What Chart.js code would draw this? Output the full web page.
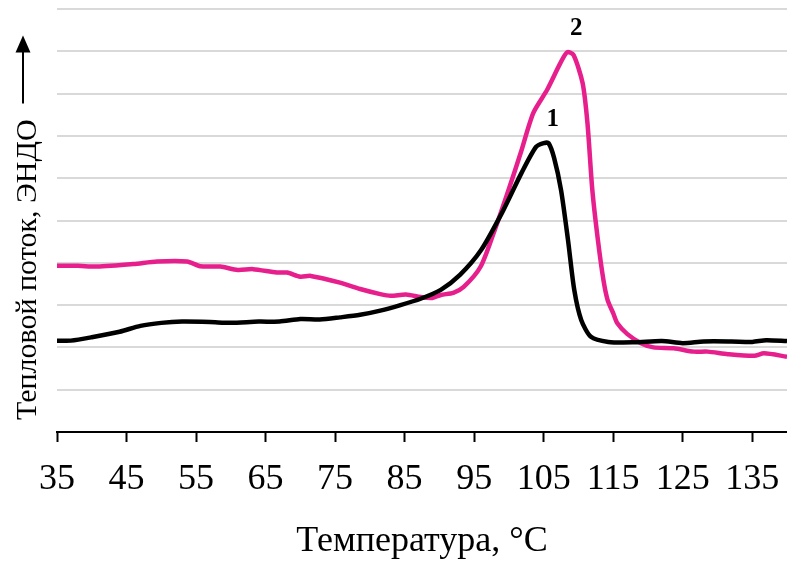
<!DOCTYPE html>
<html lang="ru">
<head>
<meta charset="utf-8">
<title>Тепловой поток</title>
<script src="https://cdn.jsdelivr.net/npm/chart.js@4"></script>
<style>
  html, body { margin: 0; padding: 0; background: #fff; }
</style>
</head>
<body>
<canvas id="dscChart" width="787" height="563"></canvas>
<script>
// кривая 1 (черная)
const temp1 = [35, 37, 40, 44, 47, 50, 53, 57, 60, 64, 67, 70, 72.8, 75.7, 78.6, 81.5, 84.4, 87.3, 90.2, 93,
  96, 99, 101.8, 103.9, 105, 105.7, 106.5, 107.5, 108.5, 109.4, 110.4, 111.8, 114.3, 118, 122, 125, 128, 132, 135, 137, 140];
const flow1 = [2.16, 2.16, 2.24, 2.37, 2.51, 2.58, 2.61, 2.6, 2.58, 2.61, 2.61, 2.67, 2.66, 2.71, 2.77, 2.87, 3.0, 3.15, 3.36, 3.72,
  4.3, 5.18, 6.12, 6.74, 6.83, 6.83, 6.48, 5.72, 4.54, 3.36, 2.65, 2.25, 2.13, 2.12, 2.15, 2.1, 2.14, 2.14, 2.13, 2.17, 2.15];

// кривая 2 (розовая)
const temp2 = [35, 38, 40.7, 46, 49.4, 53.7, 55.6, 58.5, 61, 63.2, 66.6, 68.1, 70, 71.5, 75.7, 78.6, 81.5, 83, 85.2, 87.3,
  89, 90.2, 92, 93.5, 95.9, 97.8, 99.8, 101.7, 103.5, 105.5, 107.4, 108.4, 109.3, 110.6, 111.3, 112, 112.8, 113.6, 114.2, 115,
  115.6, 117, 119, 120.8, 123.7, 126.6, 128.6, 131.5, 135.3, 136.7, 140];
const flow2 = [3.93, 3.93, 3.91, 3.97, 4.03, 4.03, 3.92, 3.91, 3.83, 3.85, 3.77, 3.77, 3.67, 3.69, 3.53, 3.38, 3.26, 3.22, 3.25, 3.19,
  3.17, 3.24, 3.29, 3.43, 3.9, 4.7, 5.65, 6.6, 7.54, 8.09, 8.72, 8.98, 8.91, 8.25, 7.3, 5.72, 4.54, 3.59, 3.12, 2.81,
  2.57, 2.32, 2.1, 2.0, 1.98, 1.9, 1.9, 1.84, 1.8, 1.86, 1.78];

const xTicks = [35, 45, 55, 65, 75, 85, 95, 105, 115, 125, 135];
const curveNames = ["1", "2"];

const serif = '"Liberation Serif", "Times New Roman", serif';
const toPoints = (xs, ys) => xs.map((t, i) => ({ x: t, y: ys[i] }));

// подписи кривых, ось Y и стрелка
const annotate = {
  id: "annotate",
  afterDatasetsDraw(chart) {
    const { ctx, scales: { x, y }, chartArea } = chart;
    ctx.save();

    ctx.font = "bold 25px " + serif;
    ctx.fillStyle = "#000";
    ctx.textAlign = "center";
    ctx.textBaseline = "middle";
    chart.data.datasets.forEach((ds, i) => {
      let top = ds.data[0];
      ds.data.forEach(p => { if (p.y > top.y) top = p; });
      ctx.fillText(curveNames[i], x.getPixelForValue(top.x) + 9, y.getPixelForValue(top.y) - 24);
    });

    const yTitle = "Тепловой поток, ЭНДО";
    const startY = chartArea.bottom - 12;
    ctx.font = "30px " + serif;
    const w = ctx.measureText(yTitle).width;
    ctx.translate(36, startY);
    ctx.rotate(-Math.PI / 2);
    ctx.textAlign = "left";
    ctx.textBaseline = "alphabetic";
    ctx.fillText(yTitle, 0, 0);
    ctx.restore();

    // стрелка
    const ax = 23, a0 = startY - w - 16, a1 = a0 - 68;
    ctx.save();
    ctx.strokeStyle = "#000";
    ctx.fillStyle = "#000";
    ctx.lineWidth = 2;
    ctx.beginPath();
    ctx.moveTo(ax, a0);
    ctx.lineTo(ax, a1 + 14);
    ctx.stroke();
    ctx.beginPath();
    ctx.moveTo(ax, a1);
    ctx.lineTo(ax - 7.5, a1 + 17);
    ctx.lineTo(ax + 7.5, a1 + 17);
    ctx.closePath();
    ctx.fill();
    ctx.restore();
  }
};

new Chart(document.getElementById("dscChart"), {
  type: "line",
  data: {
    datasets: [
      {
        label: curveNames[0],
        data: toPoints(temp1, flow1),
        borderColor: "#000000",
        borderWidth: 4.5,
        pointRadius: 0,
        tension: 0.25
      },
      {
        label: curveNames[1],
        data: toPoints(temp2, flow2),
        borderColor: "#e61f8c",
        borderWidth: 4.5,
        pointRadius: 0,
        tension: 0.25
      }
    ]
  },
  options: {
    responsive: false,
    animation: false,
    layout: { padding: { left: 57, top: 9, right: 0, bottom: 0 } },
    plugins: {
      legend: { display: false },
      tooltip: { enabled: false }
    },
    scales: {
      x: {
        type: "linear",
        min: 35,
        max: 140,
        afterBuildTicks: s => { s.ticks = xTicks.map(v => ({ value: v })); },
        afterFit: s => { s.height = 131; s.paddingLeft = 0; s.paddingRight = 0; },
        ticks: {
          color: "#000",
          font: { family: serif, size: 36 },
          padding: 16,
          maxRotation: 0,
          autoSkip: false
        },
        grid: {
          drawOnChartArea: false,
          drawTicks: true,
          tickLength: 10,
          tickColor: "#000",
          tickWidth: 2
        },
        border: { color: "#000", width: 2 },
        title: {
          display: true,
          text: "Температура, °C",
          color: "#000",
          font: { family: serif, size: 36 },
          padding: { top: 18, bottom: 0 }
        }
      },
      y: {
        min: 0,
        max: 10,
        ticks: { display: false, stepSize: 1 },
        grid: { color: "#d9d9d9", lineWidth: 2, drawTicks: false },
        border: { display: false }
      }
    }
  },
  plugins: [annotate]
});
</script>
</body>
</html>
